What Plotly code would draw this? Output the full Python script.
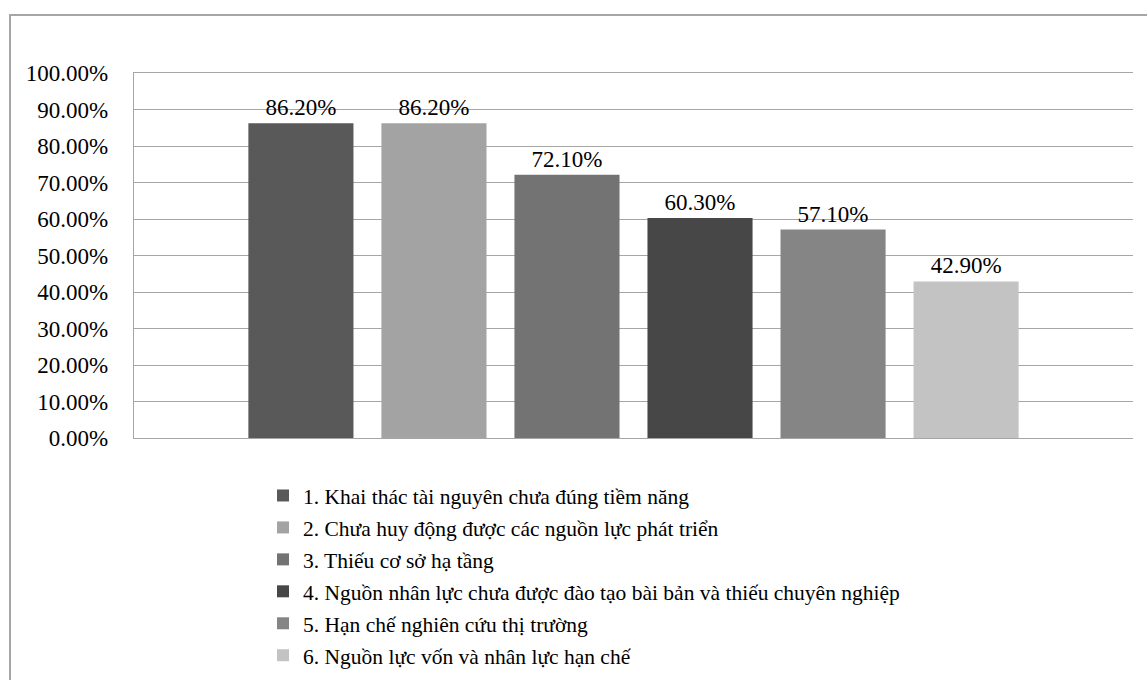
import plotly.graph_objects as go

series_names = [
    "1. Khai thác tài nguyên chưa đúng tiềm năng",
    "2. Chưa huy động được các nguồn lực phát triển",
    "3. Thiếu cơ sở hạ tầng",
    "4. Nguồn nhân lực chưa được đào tạo bài bản và thiếu chuyên nghiệp",
    "5. Hạn chế nghiên cứu thị trường",
    "6. Nguồn lực vốn và nhân lực hạn chế",
]
values = [0.862, 0.862, 0.721, 0.603, 0.571, 0.429]
colors = ["#595959", "#a3a3a3", "#737373", "#474747", "#858585", "#c3c3c3"]
category = ["Khó khăn"]

W, H = 1147, 680
L, R, T, B = 134, 14, 73, 242
pw, ph = W - L - R, H - T - B

FONT = "Liberation Serif"

fig = go.Figure()
for i, (name, v, c) in enumerate(zip(series_names, values, colors)):
    fig.add_trace(go.Bar(
        x=category, y=[v], name=name, marker=dict(color=c, line=dict(width=0)),
        text=[v],
        texttemplate="%{y:.2%}",
        textposition="outside",
        textfont=dict(family=FONT, size=23, color="#000000"),
        cliponaxis=False, legendgroup=f"g{i}",
    ))

def px_x(x):
    return (x - L) / pw

def px_y(y):
    return (H - B - y) / ph

fig.update_layout(
    width=W, height=H,
    margin=dict(l=L, r=R, t=T, b=B, autoexpand=False),
    paper_bgcolor="white", plot_bgcolor="white",
    barmode="group", bargap=0.201, bargroupgap=0.21,
    font=dict(family=FONT, color="#000000"),
    showlegend=True,
    legend=dict(
        x=px_x(263), y=px_y(475), xanchor="left", yanchor="top",
        font=dict(family=FONT, size=21.5, color="#000000"),
        traceorder="grouped", tracegroupgap=1,
        bgcolor="rgba(0,0,0,0)", itemclick=False,
    ),
    xaxis=dict(showticklabels=False, showgrid=False, zeroline=False,
               showline=True, mirror=True, linecolor="#a6a6a6", linewidth=1.3,
               range=[-0.5, 0.5], fixedrange=True),
    yaxis=dict(range=[0, 1.0], dtick=0.1, tick0=0, tickformat=".2%",
               showgrid=True, gridcolor="#a6a6a6", gridwidth=1.3,
               zeroline=False, showline=True, linecolor="#a6a6a6", linewidth=1.3,
               tickfont=dict(family=FONT, size=23, color="#000000"),
               ticks="", ticklabelstandoff=20),
    shapes=[dict(type="rect", xref="paper", yref="paper",
                 x0=px_x(10), x1=px_x(1160), y0=px_y(15), y1=px_y(700),
                 line=dict(color="#a6a6a6", width=2), fillcolor="rgba(0,0,0,0)",
                 layer="below")],
)

fig.write_html("out.html")
